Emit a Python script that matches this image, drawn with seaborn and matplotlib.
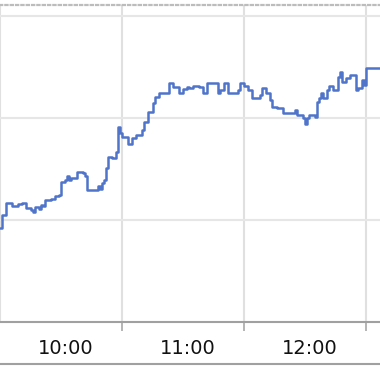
import matplotlib
matplotlib.use("Agg")
import matplotlib.pyplot as plt
import matplotlib.transforms as mtransforms
from matplotlib.lines import Line2D
import seaborn as sns
import pandas as pd

# minutes after 9:30 and price level (grid units)
minutes = [0, 1, 3, 6, 9, 11, 13, 15, 16, 17, 19, 20, 21, 22, 25, 27, 29,
           30, 32, 33, 34, 35, 38, 41, 42, 43, 48, 49, 50, 51, 52, 53, 55,
           57, 58, 59, 60, 63, 65, 67, 70, 71, 73, 75, 76, 78, 83, 85, 88,
           90, 92, 93, 95, 98, 100, 102, 107, 108, 110, 112, 117, 118, 120,
           122, 124, 128, 129, 131, 133, 134, 136, 139, 145, 146, 149, 150,
           151, 152, 155, 156, 157, 158, 159, 161, 162, 164, 166, 167, 168,
           170, 172, 175, 176, 178, 179, 180, 187]
values = [0.92, 1.05, 1.17, 1.14, 1.16, 1.17, 1.12, 1.10, 1.08, 1.13, 1.11,
          1.15, 1.14, 1.20, 1.21, 1.24, 1.25,
          1.37, 1.39, 1.43, 1.39, 1.41, 1.47, 1.46, 1.43, 1.29, 1.33, 1.30,
          1.36, 1.39, 1.51, 1.62, 1.61,
          1.67, 1.91, 1.85, 1.81, 1.75, 1.80, 1.83, 1.88, 1.96, 2.06, 2.15,
          2.21, 2.25, 2.34, 2.30, 2.25,
          2.28, 2.30, 2.29, 2.31, 2.30, 2.25, 2.34, 2.25, 2.27, 2.34, 2.25,
          2.27, 2.34, 2.31,
          2.27, 2.20, 2.23, 2.29, 2.25, 2.18, 2.11, 2.10, 2.05, 2.08, 2.03,
          2.00, 1.94,
          2.00, 2.03, 2.01, 2.16, 2.20, 2.25, 2.20, 2.27, 2.31, 2.27, 2.40,
          2.45, 2.35,
          2.39, 2.42, 2.27, 2.29, 2.37, 2.32, 2.49, 2.49]

grid_minutes = [0, 60, 120, 180]
label_minutes = [30, 90, 150]
tick_labels = ["10:00", "11:00", "12:00"]
y_grid = [1, 2, 3]

df = pd.DataFrame({"minute": minutes, "value": values})

sns.set_theme(style="white")
plt.rcParams["font.family"] = ["DejaVu Sans"]

fig = plt.figure(figsize=(3.8, 3.72), dpi=100)
ax = fig.add_axes([0, 50 / 372, 1, 317 / 372])

sns.lineplot(data=df, x="minute", y="value", ax=ax, estimator=None, sort=False,
             drawstyle="steps-post", color="#4f74c9", linewidth=1.8)

ax.set_xlim(0, 380 * 60 / 122)
ax.set_ylim(0, 317 / 102)

ax.set_xticks(grid_minutes)
ax.set_xticklabels([""] * len(grid_minutes))
ax.set_xticks(label_minutes, minor=True)
ax.set_xticklabels(tick_labels, minor=True)
ax.set_yticks(y_grid)
ax.set_yticklabels([])

ax.tick_params(axis="x", which="major", direction="out", length=6.5, width=1.2,
               color="#a8a8a8", bottom=True)
ax.tick_params(axis="x", which="minor", length=0, pad=12, labelsize=14,
               labelcolor="#111111", bottom=True)
ax.tick_params(axis="y", length=0)
ax.xaxis.get_major_ticks()[0].tick1line.set_visible(False)

offset = mtransforms.ScaledTranslation(5 / 100, 0, fig.dpi_scale_trans)
for lab in ax.get_xticklabels(minor=True):
    lab.set_transform(lab.get_transform() + offset)

ax.grid(True, axis="y", which="major", color="#e6e6e6", linewidth=1.5)
ax.grid(True, axis="x", which="major", color="#e0e0e0", linewidth=1.5)
ax.set_axisbelow(True)

ax.set_xlabel("")
ax.set_ylabel("")
for side in ["left", "right"]:
    ax.spines[side].set_visible(False)
ax.spines["bottom"].set_color("#a0a0a0")
ax.spines["bottom"].set_linewidth(1.5)
ax.spines["top"].set_color("#bcbcbc")
ax.spines["top"].set_linewidth(1.6)
ax.spines["top"].set_linestyle((0, (1, 1.4)))

fig.add_artist(Line2D([0, 1], [8 / 372, 8 / 372], transform=fig.transFigure,
                      color="#a0a0a0", linewidth=1.5))

fig.savefig("out.png", dpi=100)
